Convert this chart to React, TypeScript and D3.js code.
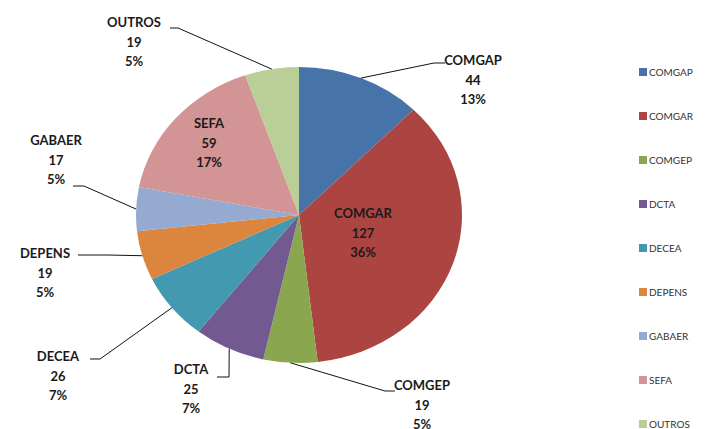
import React from "react";
import * as d3 from "d3";

const categories = ["COMGAP", "COMGAR", "COMGEP", "DCTA", "DECEA", "DEPENS", "GABAER", "SEFA", "OUTROS"];
const values = [44, 127, 19, 25, 26, 19, 17, 59, 19];
const percentLabels = ["13%", "36%", "5%", "7%", "7%", "5%", "5%", "17%", "5%"];
const colors = ["#4674A8", "#AC4441", "#8AA64F", "#72598F", "#4299B0", "#DB853E", "#94AAD0", "#D29494", "#BACE97"];

// layout (positions only)
const W = 709, H = 429;
const CX = 299, CY = 215, RY = 148, RX = 163;
type LabelLayout = { x: number; y: number; inside?: boolean; elbow?: [number, number]; end?: [number, number] };
const labelLayout: Record<string, LabelLayout> = {
  COMGAP: { x: 473, y: 60, elbow: [434, 63], end: [445, 63] },
  COMGAR: { x: 363, y: 213, inside: true },
  COMGEP: { x: 422, y: 385, elbow: [385, 391], end: [395, 391] },
  DCTA: { x: 191, y: 369, elbow: [229, 377], end: [217, 377] },
  DECEA: { x: 58, y: 356, elbow: [100, 359], end: [90, 359] },
  DEPENS: { x: 45, y: 253, elbow: [108, 255], end: [78, 255] },
  GABAER: { x: 56, y: 140, elbow: [84, 186], end: [73, 186] },
  SEFA: { x: 209, y: 123, inside: true },
  OUTROS: { x: 134, y: 22, elbow: [178, 28], end: [170, 28] },
};
const LINE_H = 19.5;
const legendX = 639, legendY0 = 72, legendStep = 44;

export default function App() {
  const pie = d3.pie<number>().sort(null).value((d) => d)(values);
  const arc = d3.arc<d3.PieArcDatum<number>>().innerRadius(0).outerRadius(RY);
  const sx = RX / RY;
  const edge = (a: d3.PieArcDatum<number>): [number, number] => {
    const m = (a.startAngle + a.endAngle) / 2;
    return [CX + RX * Math.sin(m), CY - RY * Math.cos(m)];
  };
  const font = "Lato, 'Open Sans', sans-serif";

  return (
    <svg width={W} height={H} style={{ position: "absolute", left: 0, top: 0, background: "#fff" }}>
      <g transform={`translate(${CX},${CY}) scale(${sx},1)`}>
        {pie.map((p, i) => (
          <path key={i} d={arc(p) || ""} fill={colors[i]} />
        ))}
      </g>
      {pie.map((p, i) => {
        const name = categories[i];
        const L = labelLayout[name];
        const lines = [name, String(values[i]), percentLabels[i]];
        const e = edge(p);
        return (
          <g key={name}>
            {!L.inside && L.elbow && L.end && (
              <polyline
                points={`${e[0]},${e[1]} ${L.elbow[0]},${L.elbow[1]} ${L.end[0]},${L.end[1]}`}
                fill="none"
                stroke="#111"
                strokeWidth={1}
              />
            )}
            {lines.map((t, j) => (
              <text
                key={j}
                x={L.x}
                y={L.y + j * LINE_H}
                textAnchor="middle"
                dominantBaseline="central"
                fontFamily={font}
                fontSize={13}
                fontWeight={name === "COMGAP" && j === 1 ? 900 : 700}
                fill="#1a1a1a"
              >
                {t}
              </text>
            ))}
          </g>
        );
      })}
      {categories.map((c, i) => (
        <g key={c} transform={`translate(${legendX},${legendY0 + i * legendStep})`}>
          <rect x={0} y={-4} width={8} height={8} fill={colors[i]} />
          <text x={10} y={0} dominantBaseline="central" fontFamily={font} fontSize={10} fill="#333">
            {c}
          </text>
        </g>
      ))}
    </svg>
  );
}
